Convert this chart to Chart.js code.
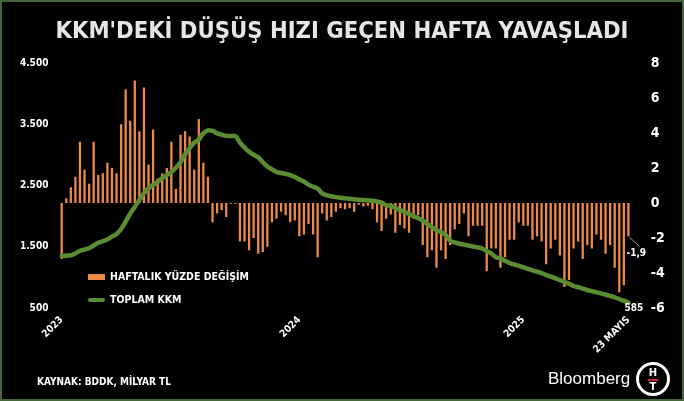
<!DOCTYPE html>
<html>
<head>
<meta charset="utf-8">
<script src="https://cdn.jsdelivr.net/npm/chart.js@4.4.1/dist/chart.umd.min.js"></script>
<style>
    html, body { margin: 0; padding: 0; background: #000; }
    #wrap {
        position: relative; width: 684px; height: 401px; background: #000; overflow: hidden;
        font-family: 'DejaVu Sans Condensed', 'DejaVu Sans', sans-serif; color: #fff;
    }
    #kkmChart { position: absolute; left: 0; top: 0; }
    #frame {
        position: absolute; left: 0; top: 0; width: 684px; height: 401px;
        box-sizing: border-box; border: 2px solid #46663a; pointer-events: none;
    }
    #title {
        position: absolute; left: 0; right: 0; top: 16px; text-align: center;
        font-weight: bold; font-size: 23.6px; color: #e6e6e6;
    }
    .leg { position: absolute; left: 88px; font-weight: bold; font-size: 10.5px; line-height: 12px; }
    .leg i { display: inline-block; width: 17px; vertical-align: middle; margin-right: 5px; }
    #source { position: absolute; left: 37px; top: 376px; font-weight: bold; font-size: 10px; }
    #brand {
        position: absolute; left: 548px; top: 369px; font-family: 'Liberation Sans', Arial, sans-serif;
        font-size: 17px; color: #fff;
    }
    #logo {
        position: absolute; left: 636px; top: 362px; width: 28px; height: 28px; border: 3px solid #fff;
        border-radius: 50%; text-align: center; font-family: 'DejaVu Sans', sans-serif; font-weight: bold;
        font-size: 10px; line-height: 10px;
    }
    #logo span { display: block; }
    #logo hr { margin: 1px 9px; border: 0; border-top: 2px solid #d0202a; }
</style>
</head>
<body>
<div id="wrap">
    <canvas id="kkmChart" width="684" height="401"></canvas>
    <div id="title">KKM'DEKİ DÜŞÜŞ HIZI GEÇEN HAFTA YAVAŞLADI</div>
    <div class="leg" style="top:270px"><i style="height:6px;background:#ee8a44"></i>HAFTALIK YÜZDE DEĞİŞİM</div>
    <div class="leg" style="top:293px"><i style="height:4px;background:#5b8c32;border-radius:2px"></i>TOPLAM KKM</div>
    <div id="source">KAYNAK: BDDK, MİLYAR TL</div>
    <div id="brand">Bloomberg</div>
    <div id="logo"><span style="margin-top:3px">H</span><hr><span>T</span></div>
    <div id="frame"></div>
</div>
<script>
// weekly % change (right axis), one per week from the first week of 2023 to 23 May 2025
const weeklyChange = [
    -3.2, 0.27, 0.9, 1.5, 3.5, 1.9, 1.1, 3.5, 1.6, 1.7,
    2.3, 2.0, 1.7, 4.5, 6.5, 4.7, 7.0, 4.1, 6.6, 2.2,
    4.2, 1.4, 1.7, 2.0, 3.5, 0.8, 3.9, 4.1, 3.8, 1.9,
    4.8, 2.3, 1.5, -1.1, -0.6, -0.4, -0.8, -0.05, -0.05, -2.2,
    -2.2, -2.7, -2.0, -2.9, -2.8, -2.5, -1.1, -0.9, -0.5, -0.7,
    -1.1, -1.0, -1.9, -1.8, -1.2, -1.8, -3.1, -0.6, -1.0, -0.8,
    -0.5, -0.3, -0.35, -0.3, -0.5, -0.1, -0.2, -0.15, -0.35, -1.1,
    -1.6, -0.9, -0.65, -1.7, -1.25, -1.45, -1.7, -0.9, -0.7, -2.4,
    -3.1, -2.7, -3.7, -2.7, -3.2, -2.4, -1.5, -1.2, -0.6, -1.9,
    -1.3, -1.3, -1.3, -3.9, -2.6, -2.6, -3.7, -3.1, -2.1, -2.1,
    -1.1, -1.3, -1.3, -2.1, -1.9, -2.2, -3.5, -2.6, -2.1, -3.0,
    -4.8, -4.4, -2.6, -2.2, -3.2, -2.4, -2.6, -1.8, -2.1, -2.9,
    -2.4, -3.7, -5.1, -4.7, -1.9
];

// total KKM, billion TL (left axis)
const totalKKM = [
    1350, 1355, 1360, 1390, 1435, 1455, 1475, 1520, 1566, 1590,
    1620, 1665, 1708, 1790, 1910, 2040, 2150, 2265, 2370, 2455,
    2510, 2560, 2620, 2670, 2720, 2790, 2880, 3010, 3110, 3200,
    3250, 3352, 3400, 3390, 3350, 3330, 3310, 3308, 3308, 3200,
    3120, 3050, 3000, 2960, 2880, 2810, 2765, 2720, 2705, 2690,
    2671, 2640, 2600, 2565, 2515, 2480, 2450, 2371, 2340, 2325,
    2310, 2300, 2290, 2284, 2275, 2268, 2262, 2256, 2251, 2240,
    2219, 2180, 2165, 2135, 2100, 2070, 2035, 2000, 1964, 1930,
    1870, 1820, 1770, 1740, 1692, 1600, 1570, 1550, 1535, 1520,
    1505, 1490, 1470, 1430, 1390, 1330, 1311, 1270, 1235, 1210,
    1190, 1164, 1140, 1115, 1093, 1070, 1040, 1011, 985, 955,
    929, 895, 859, 840, 815, 794, 775, 757, 739, 718,
    697, 675, 645, 620, 585
];

const xTickLabels = ['2023', '2024', '2025', '23 MAYIS'];
const xTickWeeks = [0, 52, 101, 124];

// weekly categories
const weeks = [];
const start = new Date(2022, 11, 30);
for (let i = 0; i < weeklyChange.length; i++) {
    const d = new Date(start);
    d.setDate(d.getDate() + i * 7);
    weeks.push(d.toISOString().slice(0, 10));
}

const FONT = "'DejaVu Sans Condensed', 'DejaVu Sans', sans-serif";

// the -1,9 and 585 notes at the end of the series
const endNotes = {
    id: 'endNotes',
    afterDatasetsDraw(chart) {
        const { ctx, scales } = chart;
        const i = weeklyChange.length - 1;
        const bx = scales.x.getPixelForValue(i);
        const by = scales.yR.getPixelForValue(weeklyChange[i]);
        const ly = scales.yL.getPixelForValue(totalKKM[i]);
        ctx.save();
        ctx.strokeStyle = '#9a9a9a';
        ctx.lineWidth = 1;
        ctx.beginPath();
        ctx.moveTo(bx + 1, by + 1);
        ctx.lineTo(bx + 11, by + 10);
        ctx.stroke();
        ctx.fillStyle = '#fff';
        ctx.font = 'bold 10px ' + FONT;
        ctx.textAlign = 'left';
        ctx.textBaseline = 'middle';
        ctx.fillText(weeklyChange[i].toFixed(1).replace('.', ','), bx - 2, by + 17);
        ctx.fillText(String(totalKKM[i]), bx - 4, ly + 6);
        ctx.restore();
    }
};

new Chart(document.getElementById('kkmChart'), {
    data: {
        labels: weeks,
        datasets: [
            {
                type: 'line',
                label: 'TOPLAM KKM',
                data: totalKKM,
                yAxisID: 'yL',
                borderColor: '#5b8c32',
                borderWidth: 4.5,
                pointRadius: 0,
                tension: 0.3,
                borderCapStyle: 'round'
            },
            {
                type: 'bar',
                label: 'HAFTALIK YÜZDE DEĞİŞİM',
                data: weeklyChange,
                yAxisID: 'yR',
                backgroundColor: '#ee8a44',
                categoryPercentage: 1,
                barPercentage: 0.5
            }
        ]
    },
    options: {
        responsive: false,
        animation: false,
        layout: { padding: { top: 63, left: 0, right: 0, bottom: 0 } },
        plugins: { legend: { display: false }, tooltip: { enabled: false } },
        scales: {
            x: {
                grid: { display: false, drawTicks: false },
                border: { display: false },
                afterFit: s => { s.height = 93; },
                ticks: {
                    autoSkip: false,
                    minRotation: 45,
                    maxRotation: 45,
                    padding: 6,
                    color: '#fff',
                    font: { family: FONT, weight: 'bold', size: 10 },
                    callback: (v, i) => {
                        const k = xTickWeeks.indexOf(i);
                        return k >= 0 ? xTickLabels[k] : '';
                    }
                }
            },
            yL: {
                position: 'left',
                min: 500,
                max: 4500,
                grid: { display: false, drawTicks: false },
                border: { display: false },
                afterFit: s => { s.width = 59.4; },
                ticks: {
                    stepSize: 1000,
                    padding: 11,
                    color: '#fff',
                    font: { family: FONT, weight: 'bold', size: 10 },
                    callback: v => v.toString().replace(/\B(?=(\d{3})+(?!\d))/g, '.')
                }
            },
            yR: {
                position: 'right',
                min: -6,
                max: 8,
                grid: { display: false, drawTicks: false },
                border: { display: false },
                afterFit: s => { s.width = 53.3; },
                ticks: {
                    stepSize: 2,
                    padding: 20,
                    color: '#fff',
                    font: { family: FONT, weight: 'bold', size: 14 }
                }
            }
        }
    },
    plugins: [endNotes]
});
</script>
</body>
</html>
